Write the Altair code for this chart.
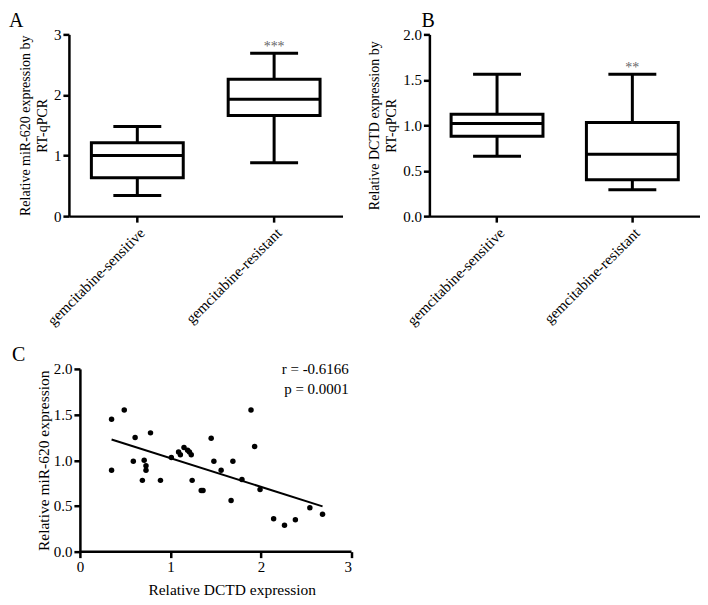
import altair as alt
import pandas as pd

FONT = "Liberation Serif"

groups = ["gemcitabine-sensitive", "gemcitabine-resistant"]

# Panel A: miR-620 box statistics
a_low = [0.34, 0.88]
a_q1 = [0.635, 1.66]
a_med = [1.00, 1.93]
a_q3 = [1.21, 2.26]
a_high = [1.48, 2.69]
a_sig = ["", "***"]

# Panel B: DCTD box statistics
b_low = [0.66, 0.29]
b_q1 = [0.88, 0.40]
b_med = [1.02, 0.68]
b_q3 = [1.12, 1.03]
b_high = [1.56, 1.56]
b_sig = ["", "**"]

# Panel C: scatter
dctd = [0.35, 0.35, 0.49, 0.61, 0.59, 0.71, 0.73, 0.73, 0.69, 0.78, 0.89, 1.01,
        1.09, 1.11, 1.15, 1.19, 1.21, 1.23, 1.24, 1.34, 1.36, 1.45, 1.48, 1.56,
        1.67, 1.69, 1.79, 1.89, 1.93, 1.99, 2.14, 2.26, 2.38, 2.54, 2.68]
mir = [1.45, 0.89, 1.55, 1.25, 0.99, 1.00, 0.94, 0.89, 0.78, 1.30, 0.78, 1.03,
       1.09, 1.06, 1.14, 1.11, 1.09, 1.06, 0.78, 0.67, 0.67, 1.24, 0.99, 0.89,
       0.56, 0.99, 0.79, 1.55, 1.15, 0.68, 0.36, 0.29, 0.35, 0.48, 0.41]
stats_text = ["r = -0.6166", "p = 0.0001"]
stats_x = [2.97, 2.97]
stats_y = [2.0, 1.78]
c_xrange = [0, 3]
c_xticks = [0, 1, 2, 3]
c_yticks = [0, 0.5, 1, 1.5, 2]


def box_panel(low, q1, med, q3, high, sig, ymax, yvals, yfmt, ytitle, letter, width, dx):
    df = pd.DataFrame({"group": groups, "low": low, "q1": q1, "med": med,
                       "q3": q3, "high": high, "sig": sig})
    x = alt.X("group:N", sort=groups,
              scale=alt.Scale(paddingInner=0, paddingOuter=0),
              axis=alt.Axis(title=None, labelAngle=-45, labelFontSize=15,
                            labelPadding=3))
    yscale = alt.Scale(domain=[0, ymax], nice=False)
    yaxis = alt.Axis(title=ytitle, values=yvals, format=yfmt, titleFontSize=14,
                     titleLineHeight=17, titlePadding=4)
    base = alt.Chart(df)
    w1 = base.mark_rule(color="black", strokeWidth=3).encode(
        x=x, y=alt.Y("low:Q", scale=yscale, axis=yaxis), y2="q1:Q")
    w2 = base.mark_rule(color="black", strokeWidth=3).encode(
        x=x, y=alt.Y("q3:Q"), y2="high:Q")
    box = base.mark_bar(fill="white", stroke="black", strokeWidth=3, size=92).encode(
        x=x, y=alt.Y("q1:Q"), y2="q3:Q")
    medt = base.mark_tick(color="black", thickness=3, size=92, opacity=1).encode(
        x=x, y=alt.Y("med:Q"))
    caplo = base.mark_tick(color="black", thickness=3, size=48, opacity=1).encode(
        x=x, y=alt.Y("low:Q"))
    caphi = base.mark_tick(color="black", thickness=3, size=48, opacity=1).encode(
        x=x, y=alt.Y("high:Q"))
    stars = base.mark_text(color="#666666", fontSize=14, dy=-6, font=FONT).encode(
        x=x, y=alt.Y("high:Q"), text="sig:N")
    return alt.layer(w1, w2, box, medt, caplo, caphi, stars).properties(
        width=width, height=182,
        title=alt.TitleParams(letter, anchor="start", frame="group", dx=dx,
                              fontSize=20, font=FONT, fontWeight="normal",
                              offset=-4, color="black"))


panel_a = box_panel(a_low, a_q1, a_med, a_q3, a_high, a_sig, 3, [0, 1, 2, 3], "d",
                    ["Relative miR-620 expression by", "RT-qPCR"], "A", 274, -60)
panel_b = box_panel(b_low, b_q1, b_med, b_q3, b_high, b_sig, 2, [0, 0.5, 1, 1.5, 2], ".1f",
                    ["Relative DCTD expression by", "RT-qPCR"], "B", 271, -8)

sdf = pd.DataFrame({"dctd": dctd, "mir": mir})
tdf = pd.DataFrame({"x": stats_x, "y": stats_y, "t": stats_text})
adf = pd.DataFrame({"x": [c_xrange[0]], "x2": [c_xrange[1]], "y": [0]})
# x scale starts a little left of 0 so the y axis (moved inward) sits at x = 0
xs = alt.Scale(domain=[-0.1213, 3], nice=False)
ys = alt.Scale(domain=[0, 2], nice=False)
pts = alt.Chart(sdf).mark_circle(color="black", size=30, opacity=1).encode(
    x=alt.X("dctd:Q", scale=xs,
            axis=alt.Axis(title="Relative DCTD expression", values=c_xticks,
                          format="d", titleFontSize=15.5, titleX=163, titlePadding=8,
                          domain=False)),
    y=alt.Y("mir:Q", scale=ys,
            axis=alt.Axis(title="Relative miR-620 expression", values=c_yticks,
                          format=".1f", titleFontSize=15.5, titlePadding=2, offset=-11)))
xline = alt.Chart(adf).mark_rule(color="black", strokeWidth=2.5).encode(
    x="x:Q", x2="x2:Q", y="y:Q")
reg = alt.Chart(sdf).transform_regression("dctd", "mir").mark_line(
    color="black", strokeWidth=2).encode(x="dctd:Q", y="mir:Q")
txt = alt.Chart(tdf).mark_text(align="right", baseline="middle", fontSize=15,
                               font=FONT, color="black").encode(
    x="x:Q", y="y:Q", text="t:N")
panel_c = alt.layer(pts, xline, reg, txt).properties(
    width=283, height=183,
    title=alt.TitleParams("C", anchor="start", frame="group", dx=-57,
                          fontSize=20, font=FONT, fontWeight="normal",
                          offset=-3, color="black"))

top = alt.hconcat(panel_a, panel_b, spacing=25)
chart = alt.vconcat(top, panel_c, spacing=16).properties(
    padding={"left": 1, "top": 3, "right": 0, "bottom": 0}
).configure(font=FONT).configure_view(stroke=None).configure_axis(
    grid=False, domainColor="black", domainWidth=2.5, tickColor="black",
    tickWidth=2.5, tickSize=6, labelFont=FONT, labelFontSize=15,
    labelColor="black", titleFont=FONT, titleFontWeight="normal",
    titleColor="black", labelPadding=2
)

chart.save("out.html", embed_options={"renderer": "svg", "actions": False})
